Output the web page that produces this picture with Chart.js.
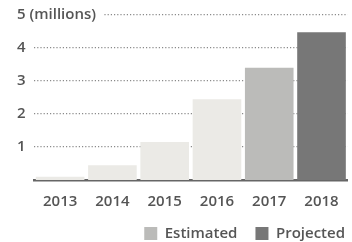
<!DOCTYPE html>
<html>
<head>
<meta charset="utf-8">
<script src="https://cdn.jsdelivr.net/npm/chart.js@4"></script>
<style>
  html, body { margin: 0; padding: 0; background: #fff; }
  #wrap { width: 352px; height: 242px; }
</style>
</head>
<body>
<div id="wrap"><canvas id="barCanvas"></canvas></div>
<script>
const years = ['2013', '2014', '2015', '2016', '2017', '2018'];
const values = [0.1, 0.45, 1.15, 2.45, 3.4, 4.48];
const barColors = ['#ebeae6', '#ebeae6', '#ebeae6', '#ebeae6', '#bbbbb9', '#777777'];
const yTicks = [1, 2, 3, 4, 5];
const legendNames = ['Estimated', 'Projected'];
const legendColors = ['#bbbbb9', '#777777'];

const font = { family: 'Open Sans', size: 15, weight: '600' };

const barCanvas = document.getElementById('barCanvas');

// push the legend row out to the right edge like the original
const legendShift = {
    id: 'legendShift',
    afterLayout(chart) {
        chart.legend.left += 15;
        chart.legend.right += 15;
    }
};

const barChart = new Chart(barCanvas, {
    type: 'bar',
    data: {
        labels: years,
        datasets: [{
            data: values,
            backgroundColor: barColors,
            categoryPercentage: 1,
            barPercentage: 0.93
        }]
    },
    plugins: [legendShift],
    options: {
        responsive: true,
        maintainAspectRatio: false,
        animation: false,
        layout: { padding: { left: 19, right: 4, top: 15, bottom: 0 } },
        plugins: {
            tooltip: { enabled: false },
            legend: {
                position: 'bottom',
                align: 'end',
                maxHeight: 34,
                labels: {
                    color: '#555',
                    font: font,
                    boxWidth: 13,
                    boxHeight: 13,
                    padding: 18,
                    generateLabels: () => legendNames.map((name, i) => ({
                        text: name,
                        fillStyle: legendColors[i],
                        strokeStyle: legendColors[i],
                        lineWidth: 0,
                        fontColor: '#555',
                        hidden: false,
                        datasetIndex: 0
                    }))
                },
                onClick: () => {}
            }
        },
        scales: {
            x: {
                afterFit: (scale) => { scale.height = 28; },
                grid: { display: false, drawTicks: false },
                border: { display: true, color: '#666', width: 2.5 },
                ticks: { color: '#555', font: font, padding: 13 }
            },
            y: {
                min: 0,
                max: 5,
                afterFit: (scale) => { scale.width = 15; },
                afterBuildTicks: (scale) => { scale.ticks = yTicks.map(v => ({ value: v })); },
                grid: { color: '#8a8a8a', lineWidth: 1.2, drawTicks: false },
                border: { display: false, dash: [1.2, 2] },
                ticks: {
                    color: '#555',
                    font: font,
                    mirror: true,
                    crossAlign: 'near',
                    padding: -17,
                    showLabelBackdrop: true,
                    backdropColor: '#fff',
                    backdropPadding: { top: 2, bottom: 2, left: 2, right: 8 },
                    callback: (v) => v === 5 ? '5 (millions)' : String(v)
                }
            }
        }
    }
});
</script>
</body>
</html>
